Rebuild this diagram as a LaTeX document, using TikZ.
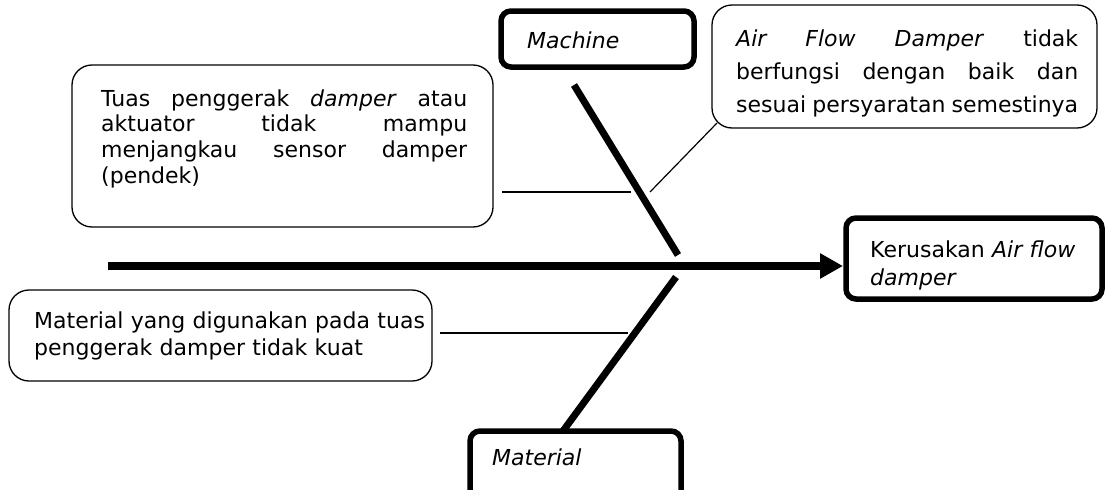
\documentclass[tikz,border=0pt]{standalone}
\usepackage{fontspec}
\setmainfont{DejaVu Sans}
\usetikzlibrary{arrows.meta}
\begin{document}
\begin{tikzpicture}[x=1pt,y=-1pt,
  thinbox/.style={draw,line width=1.3pt,rounded corners=20pt},
  thickbox/.style={draw,line width=5.5pt,rounded corners=10pt},
  bone/.style={line width=7pt},
  twig/.style={line width=1.2pt},
  txt/.style={inner sep=0pt,anchor=base west,font=\fontsize{22}{25.7}\selectfont}]
\useasboundingbox[fill=white] (0,0) rectangle (1109,490);
% boxes
\draw[thinbox] (72,65) rectangle (493,227);
\draw[thinbox] (712,5) rectangle (1097,128);
\draw[thinbox] (9,290) rectangle (432,381);
\draw[thickbox] (846,218) rectangle (1102,299);
\draw[thickbox] (501,11) rectangle (694,67);
\draw[thickbox] (470,431) rectangle (681,505);
% texts
\node[txt,text width=366pt,align=justify] (t1) at (101,106)
  {Tuas penggerak \textit{damper} atau\linebreak aktuator tidak mampu\linebreak menjangkau sensor damper\linebreak (pendek)};
\node[txt,text width=342pt,align=justify,font=\fontsize{22}{33}\selectfont] (t2) at (736,46)
  {\textit{Air Flow Damper} tidak\linebreak berfungsi dengan baik dan\linebreak sesuai persyaratan semestinya};
\node[txt,text width=395pt,align=left,font=\fontsize{22}{27}\selectfont] (t3) at (34,328)
  {Material yang digunakan pada tuas\\penggerak damper tidak kuat};
\node[txt,text width=225pt,align=left,font=\fontsize{22}{28}\selectfont] (t4) at (870,257)
  {Kerusakan \textit{Air flow}\\\textit{damper}};
\node[txt] (t5) at (527,48) {\textit{Machine}};
\node[txt] (t6) at (492,465) {\textit{Material}};
% coordinates
\coordinate (s0) at (108,266);
\coordinate (s1) at (843,266);
\coordinate (m0) at (574,85);
\coordinate (m1) at (678,255);
\coordinate (b0) at (676,277);
\coordinate (b1) at (563,431);
\coordinate (c1a) at (502,192);
\coordinate (c1b) at (631,192);
\coordinate (c2a) at (650,192);
\coordinate (c2b) at (717,123);
\coordinate (c3a) at (440,333);
\coordinate (c3b) at (628,333);
% spine and bones
\draw[line width=8pt,-{Triangle[length=23pt,width=24pt]}] (s0) -- (s1);
\draw[bone] (m0) -- (m1);
\draw[bone] (b0) -- (b1);
\draw[twig] (c1a) -- (c1b);
\draw[twig] (c2a) -- (c2b);
\draw[twig] (c3a) -- (c3b);
\end{tikzpicture}
\end{document}
